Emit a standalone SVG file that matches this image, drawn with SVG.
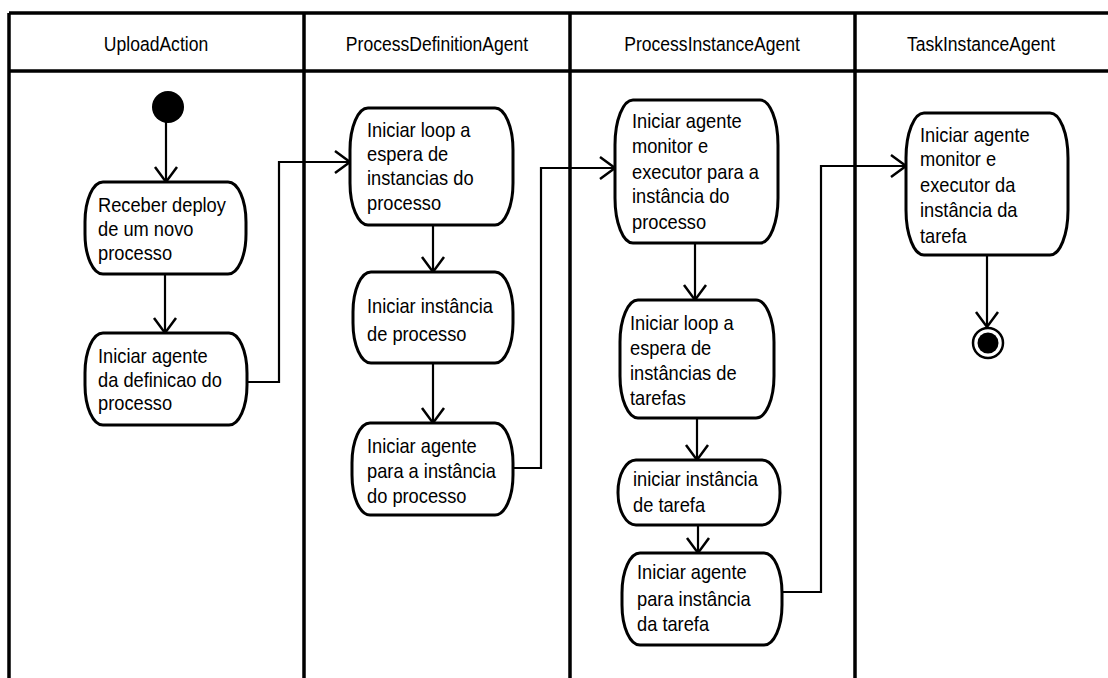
<svg xmlns="http://www.w3.org/2000/svg" width="1108" height="678" viewBox="0 0 1108 678">
  <style>
    .lane { stroke: #000; stroke-width: 3.5; fill: none; }
    .head { font-family: "Liberation Sans", Arial, sans-serif; font-size: 19.5px; fill: #000; text-anchor: middle;
            transform-box: fill-box; transform-origin: center; transform: scaleX(0.9); }
    .act { fill: #fff; stroke: #000; stroke-width: 3; }
    .lbl { font-family: "Liberation Sans", Arial, sans-serif; font-size: 21px; fill: #000;
           transform-box: fill-box; transform-origin: left; transform: scaleX(0.87); }
    .flow { fill: none; stroke: #000; stroke-width: 2.2; marker-end: url(#open); }
  </style>
  <defs>
    <marker id="open" markerUnits="userSpaceOnUse" markerWidth="20" markerHeight="26" viewBox="-17 -13 20 26" refX="0" refY="0" orient="auto">
      <path d="M-15,-11 L0,0 L-15,11" fill="none" stroke="#000" stroke-width="2.5"/>
    </marker>
  </defs>

  <rect width="1108" height="678" fill="#fff"/>

  <!-- swimlane frame -->
  <g id="lanes">
    <path class="lane" d="M9,13 H1108 M9,71 H1108 M9,13 V678 M304,13 V678 M570,13 V678 M855,13 V678"/>
    <text class="head" x="156" y="51">UploadAction</text>
    <text class="head" x="437" y="51">ProcessDefinitionAgent</text>
    <text class="head" x="712" y="51">ProcessInstanceAgent</text>
    <text class="head" x="981" y="51">TaskInstanceAgent</text>
  </g>

  <!-- control flows -->
  <g id="connectors">
    <path class="flow" d="M166,122 V182"/>
    <path class="flow" d="M165,274 V333"/>
    <path class="flow" d="M247,382 H279 V162 H350"/>
    <path class="flow" d="M433,225 V272"/>
    <path class="flow" d="M433,363 V423"/>
    <path class="flow" d="M513,468 H541 V168 H615"/>
    <path class="flow" d="M695,243 V300"/>
    <path class="flow" d="M697,418 V460"/>
    <path class="flow" d="M698,525 V553"/>
    <path class="flow" d="M782,592 H821 V166 H906"/>
    <path class="flow" d="M987,255 V327"/>
  </g>

  <g id="start">
    <circle cx="168" cy="107" r="16" fill="#000"/>
  </g>

  <g id="n1">
    <rect class="act" x="85" y="182" width="161" height="92" rx="18" ry="40"/>
    <text class="lbl"><tspan x="98" y="212">Receber deploy</tspan><tspan x="98" y="236">de um novo</tspan><tspan x="98" y="260">processo</tspan></text>
  </g>

  <g id="n2">
    <rect class="act" x="85" y="333" width="162" height="92" rx="18" ry="40"/>
    <text class="lbl"><tspan x="98" y="363">Iniciar agente</tspan><tspan x="98" y="387">da definicao do</tspan><tspan x="98" y="410">processo</tspan></text>
  </g>

  <g id="n3">
    <rect class="act" x="350" y="108" width="163" height="117" rx="18" ry="42"/>
    <text class="lbl"><tspan x="367" y="137">Iniciar loop a</tspan><tspan x="367" y="161">espera de</tspan><tspan x="367" y="185">instancias do</tspan><tspan x="367" y="210">processo</tspan></text>
  </g>

  <g id="n4">
    <rect class="act" x="353" y="272" width="160" height="91" rx="18" ry="40"/>
    <text class="lbl"><tspan x="367" y="313">Iniciar instância</tspan><tspan x="367" y="341">de processo</tspan></text>
  </g>

  <g id="n5">
    <rect class="act" x="352" y="423" width="161" height="92" rx="18" ry="40"/>
    <text class="lbl"><tspan x="367" y="453">Iniciar agente</tspan><tspan x="367" y="478">para a instância</tspan><tspan x="367" y="503">do processo</tspan></text>
  </g>

  <g id="n6">
    <rect class="act" x="615" y="100" width="163" height="143" rx="18" ry="45"/>
    <text class="lbl"><tspan x="632" y="128">Iniciar agente</tspan><tspan x="632" y="153">monitor e</tspan><tspan x="632" y="179">executor para a</tspan><tspan x="632" y="203">instância do</tspan><tspan x="632" y="229">processo</tspan></text>
  </g>

  <g id="n7">
    <rect class="act" x="620" y="300" width="154" height="118" rx="18" ry="42"/>
    <text class="lbl"><tspan x="630" y="330">Iniciar loop a</tspan><tspan x="630" y="355">espera de</tspan><tspan x="630" y="380">instâncias de</tspan><tspan x="630" y="405">tarefas</tspan></text>
  </g>

  <g id="n8">
    <rect class="act" x="618" y="460" width="162" height="65" rx="18" ry="32"/>
    <text class="lbl"><tspan x="633" y="486">iniciar instância</tspan><tspan x="633" y="512">de tarefa</tspan></text>
  </g>

  <g id="n9">
    <rect class="act" x="622" y="553" width="160" height="92" rx="18" ry="40"/>
    <text class="lbl"><tspan x="637" y="579">Iniciar agente</tspan><tspan x="637" y="606">para instância</tspan><tspan x="637" y="631">da tarefa</tspan></text>
  </g>

  <g id="n10">
    <rect class="act" x="906" y="113" width="162" height="142" rx="18" ry="45"/>
    <text class="lbl"><tspan x="920" y="142">Iniciar agente</tspan><tspan x="920" y="166">monitor e</tspan><tspan x="920" y="192">executor da</tspan><tspan x="920" y="217">instância da</tspan><tspan x="920" y="243">tarefa</tspan></text>
  </g>

  <g id="end">
    <circle cx="988" cy="343" r="15" fill="#fff" stroke="#000" stroke-width="2.5"/>
    <circle cx="988" cy="343" r="10.5" fill="#000"/>
  </g>
</svg>
